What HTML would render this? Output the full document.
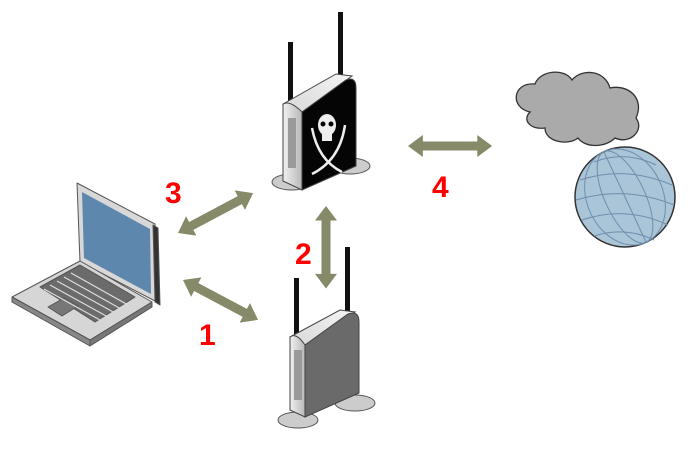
<!DOCTYPE html>
<html><head><meta charset="utf-8"><style>
html,body{margin:0;padding:0;background:#fff;width:692px;height:452px;overflow:hidden}
svg{display:block}
text{font-family:"Liberation Sans",Arial,sans-serif;font-weight:bold;fill:#f00;font-size:30px}
</style></head><body>
<svg width="692" height="452" viewBox="0 0 692 452" xmlns="http://www.w3.org/2000/svg">
<defs>
<symbol id="arr" overflow="visible">
<polygon points="0,0 15,-11 15,-4.5 70,-4.5 70,-11 85,0 70,11 70,4.5 15,4.5 15,11" fill="#868a68"/>
</symbol>
<linearGradient id="side" x1="0" x2="1"><stop offset="0" stop-color="#f0f0f0"/><stop offset="1" stop-color="#b8b8b8"/></linearGradient>
<linearGradient id="top" x1="0" x2="1" y1="1" y2="0"><stop offset="0" stop-color="#d8d8d8"/><stop offset="1" stop-color="#f4f4f4"/></linearGradient>
</defs>

<use href="#arr" transform="translate(178,233) rotate(-28)"/>
<use href="#arr" transform="translate(183,280) rotate(28)"/>
<use href="#arr" transform="translate(326,206) rotate(90) scale(0.97,1)"/>
<use href="#arr" transform="translate(408,146) scale(0.99,1)"/>

<text x="165" y="203">3</text>
<text x="432" y="197">4</text>
<text x="295" y="264">2</text>
<text x="199" y="345">1</text>

<!-- Laptop -->
<g stroke="#555" stroke-width="1" stroke-linejoin="round">
<polygon points="77,183 155,224 157,302 80,262" fill="#d8d8d8"/>
<polygon points="153,225 158,228 160,305 155,302" fill="#333"/>
<polygon points="82,192 150,229 151,294 84,258" fill="#5e87ad" stroke="none"/>
<polygon points="12,297 80,261 152,302 90,340" fill="#d6d6d6"/>
<polygon points="12,297 90,340 90,346 12,302" fill="#888"/>
<polygon points="90,340 152,302 152,307 90,346" fill="#777"/>
<polygon points="40,287 80,265 135,297 95,322" fill="#6b6b6b"/>
<polygon points="48,307 64,298 78,306 62,316" fill="#777"/>
</g>
<g stroke="#ddd" stroke-width="1.2">
<line x1="50" y1="285" x2="108" y2="317"/><line x1="57" y1="281" x2="115" y2="313"/>
<line x1="64" y1="277" x2="121" y2="309"/><line x1="71" y1="273" x2="128" y2="305"/>
<line x1="44" y1="289" x2="100" y2="320"/>
</g>

<!-- Pirate router -->
<rect x="288" y="42" width="5" height="65" fill="#111"/>
<rect x="338" y="12" width="5" height="68" fill="#111"/>
<ellipse cx="292" cy="182" rx="20" ry="8" fill="#ccc" stroke="#555"/>
<ellipse cx="350" cy="166" rx="20" ry="8" fill="#ccc" stroke="#555"/>
<g stroke="#444" stroke-width="1">
<polygon points="283,104 336,74 352,76 302,112" fill="url(#top)"/>
<path d="M302,112 L346,80 Q356,76 356,88 L356,166 L302,190 Z" fill="#050505"/>
<path d="M283,104 Q290,100 302,112 L302,190 L283,181 Z" fill="url(#side)"/>
<rect x="288" y="118" width="8" height="50" fill="#9a9a9a" stroke="none"/>
</g>
<g fill="#eee">
<ellipse cx="327" cy="125" rx="9" ry="11"/><rect x="322" y="133" width="10" height="8"/>
<path d="M312,128 Q318,160 342,172" stroke="#eee" stroke-width="2.5" fill="none"/>
<path d="M345,125 Q340,160 312,174" stroke="#eee" stroke-width="2.5" fill="none"/>
</g>
<circle cx="323" cy="124" r="2.5" fill="#000"/><circle cx="331" cy="124" r="2.5" fill="#000"/>

<!-- Router 2 -->
<rect x="294" y="278" width="5" height="62" fill="#111"/>
<rect x="345" y="247" width="5" height="66" fill="#111"/>
<ellipse cx="298" cy="420" rx="20" ry="8" fill="#ccc" stroke="#555"/>
<ellipse cx="355" cy="403" rx="20" ry="8" fill="#ccc" stroke="#555"/>
<g stroke="#444" stroke-width="1">
<polygon points="290,337 340,310 355,312 305,345" fill="url(#top)"/>
<path d="M305,345 L348,314 Q359,310 359,322 L359,393 L305,417 Z" fill="#6a6a6a"/>
<path d="M290,337 Q296,332 305,345 L305,417 L290,410 Z" fill="url(#side)"/>
<rect x="294" y="350" width="8" height="50" fill="#9a9a9a" stroke="none"/>
</g>

<!-- Cloud -->
<path d="M530,112 C510,108 512,82 535,84 C540,70 565,68 572,80 C582,68 605,70 610,88 C628,84 645,98 636,118 C645,130 630,145 615,138 C605,148 585,148 578,138 C568,146 545,142 545,128 C530,130 522,120 530,112 Z" fill="#aaa" stroke="#333" stroke-width="1.3"/>

<!-- Globe -->
<circle cx="625" cy="197" r="50" fill="#aac4d8" stroke="#333" stroke-width="1.5"/>
<g fill="none" stroke="#6f8fac" stroke-width="1">
<ellipse cx="625" cy="197" rx="20" ry="50" transform="rotate(-25 625 197)"/>
<ellipse cx="625" cy="197" rx="38" ry="50" transform="rotate(-25 625 197)"/>
<line x1="604" y1="152" x2="646" y2="242"/>
<path d="M580,180 Q625,165 672,185"/><path d="M576,200 Q625,185 674,205"/>
<path d="M582,220 Q625,205 668,225"/><path d="M594,162 Q625,150 656,165"/>
<path d="M594,236 Q625,226 654,240"/>
</g>
</svg>
</body></html>
